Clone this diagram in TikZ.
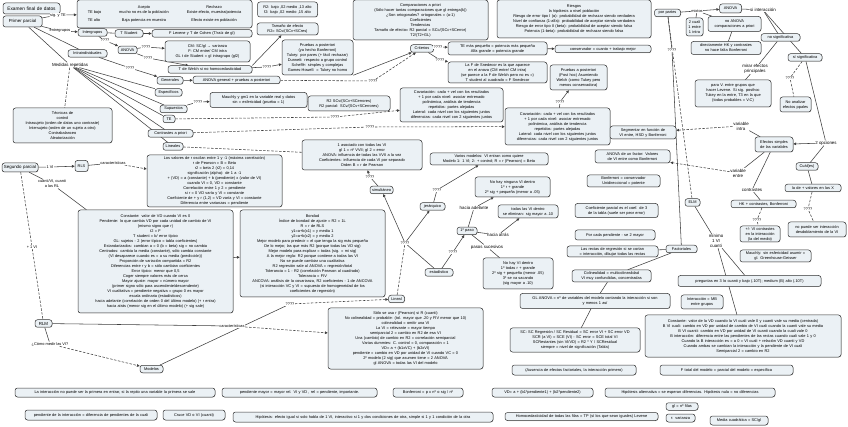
\documentclass[tikz,border=0pt]{standalone}
\usepackage{fontspec}
\setmainfont{Liberation Sans}
\usetikzlibrary{arrows.meta, shadows, backgrounds}
\definecolor{boxfill}{HTML}{EBF1F5}
\definecolor{boxline}{HTML}{333333}
\definecolor{linkgray}{HTML}{404040}
\newcommand{\fsmall}{\fontsize{3.9}{5.0}\selectfont}
\newcommand{\fmain}{\fontsize{4.4}{5.0}\selectfont}

\begin{document}
\begin{tikzpicture}[x=1pt, y=-1pt,
  box/.style={draw=boxline, fill=boxfill, rounded corners=2.5pt, inner sep=1pt, align=center, font=\fsmall, line width=0.5pt, minimum height=7.5pt, drop shadow={shadow xshift=0.5pt, shadow yshift=-0.5pt, opacity=0.3}},
  cbox/.style={box, font=\fmain},
  lbl/.style={fill=white, inner sep=0.4pt, align=center, font=\fsmall},
  ln/.style={linkgray, line width=0.55pt},
  dln/.style={ln, dash pattern=on 2.5pt off 1.5pt},
  arrow/.style={ln, -{Triangle[length=2.8pt, width=2.6pt]}},
  darrow/.style={dln, -{Triangle[length=2.8pt, width=2.6pt]}}
]
\useasboundingbox (0,0) rectangle (848,427);

% primer parcial
\node[cbox, font=\fontsize{4.8}{5.2}\selectfont, text width=55pt, minimum height=11pt] (exam) at (31.5,8.5) {Examen final de datos};
\node[cbox, text width=37pt, minimum height=11pt] (primer) at (22.5,21.5) {Primer parcial};
\node[lbl] (lsig) at (58,15) {sig. y TE};
\node[box, minimum width=175pt, minimum height=28pt] (tabla) at (164.5,14) {\begin{tabular}{@{}l@{\hspace{18pt}}c@{\hspace{18pt}}c@{}}
 & Acepto & Rechazo\\
TE bajo & mucho no es de la población & Existe efecto, muestra/potencia\\[3pt]
TE alto & Baja potencia en muestra & Efecto existe en población
\end{tabular}};
\node[box, text width=58pt, minimum height=15pt] (tamr) at (287.5,9.5) {R2: bajo ,02 medio ,13 alto\\f2: bajo ,02 medio ,15 alto};
\node[box, text width=59pt, minimum height=12pt] (tamef) at (287.5,29) {Tamaño de efecto\\R2= SCv/(SCv+SCres)};
\node[lbl] (lentre) at (60,31) {entregrupos};
\node[box, text width=27pt] (inter) at (92.5,32.5) {Intergrupos};
\node[box, text width=26pt] (tstud) at (129,33.5) {T Student};
\node[box, text width=98pt] (levene) at (202,33.5) {F Levene y T de Cohen (T/raíz de gl)};
\node[lbl] (q1) at (105,40.5) {????};
\node[box, text width=17pt] (anovaa) at (127.5,50) {ANOVA};
\node[lbl] (q2) at (146,47) {????};
\node[lbl] (q3) at (148,58) {????};
\node[box, text width=83pt, minimum height=21pt] (cmbox) at (207.5,51.5) {CM: SC/gl → varianza\\F: CM entre/ CM intra\\GL t de Student = gl intragrupo (gl2)};
\node[box, text width=82pt] (welch) at (210,69.5) {T de Welch si no homocedasticidad};
\node[box, text width=37pt] (intra) at (87.5,53.5) {Intraindividuales};
\node[lbl, font=\fmain] (lmed) at (70,65) {Medidas repetidas};
\node[lbl] (q4) at (130,68) {????};
\node[box, text width=97pt, minimum height=35pt] (tecnicas) at (62.5,125.5) {Técnicas de\\control\\Intrasujeto (orden de datos uno contraste)\\Intersujeto (orden de un sujeto a otro)\\Contrabalanceo\\Aleatorización};
\node[box, text width=24pt] (generales) at (170,80.5) {Generales};
\node[box, text width=85pt] (anovagen) at (236.5,80) {ANOVA general + pruebas a posteriori};
\node[box, text width=25pt] (especif) at (168.5,92.5) {Específicos};
\node[box, text width=25pt] (supuestos) at (173.5,109) {Supuestos};
\node[box, text width=10pt] (tebox) at (169,119) {TE};
\node[box, text width=43pt] (contr) at (170.5,133.5) {Contrastes a priori};
\node[box, text width=18pt] (lineales) at (173,146.5) {Lineales};
\node[lbl] (q5) at (267,67) {????};
\node[lbl] (q6) at (198,102) {????};
\node[box, text width=95pt, minimum height=15pt] (mauchly) at (258.5,100) {Mauchly y gm1 en la variable real y datos\\sin = esfericidad (prueba = 1)};
\node[box, text width=80pt, minimum height=15pt] (rdos) at (349,103.5) {R2 SCv/(SCv+SCerrores)\\R2 parcial: SCv/(SCv+SCerrores)};
\node[box, text width=69pt, minimum height=35pt] (posteriori) at (317.5,57.5) {Pruebas a posteriori\\(ya hecho Bonferroni)\\Tukey: por pares (+ fácil rechazar)\\Dunnett: respecto a grupo control\\Scheffé: simples y complejas\\Games-Howell: = Tukey no homo};
\node[box, text width=133pt, minimum height=40pt] (compa) at (420.5,20) {Comparaciones a priori\\(Sólo hacer tantas comparaciones que gl entrega(k))\\¿Son ortogonales? ortogonales = (a-1)\\Coeficientes\\Tendencias\\Tamaño de efecto= R2 parcial = SCc/(SCc+SCerror)\\T2/(T2+GL)};
\node[lbl] (q9) at (373,81) {????};
\node[box, text width=21pt] (criterios) at (422,48.5) {Criterios};
\node[lbl] (q10) at (438,47) {????};
\node[lbl] (q11) at (440,60) {????};
\node[box, text width=97pt, minimum height=13pt] (tepeq) at (497.5,48.5) {TE más pequeño = potencia más pequeña\\Alfa grande = potencia grande};
\node[box, text width=97pt, minimum height=21pt] (snedecor) at (497.5,72.5) {La F de Snedecor es la que aparece\\en el anova (CM entre/ CM intra)\\(se parece a la F de Welch pero no es =)\\T student al cuadrado = F Snedecor};
\node[box, text width=152pt, minimum height=38pt] (riesgos) at (574,19) {Riesgos\\la hipótesis a nivel población\\Riesgo de error tipo I (α): probabilidad de rechazar siendo verdadera\\Nivel de confianza (1-alfa): probabilidad de aceptar siendo verdadera\\Riesgo de error tipo II (beta): probabilidad de aceptar siendo falsa\\Potencia (1-beta): probabilidad de rechazar siendo falsa};
\node[box, text width=94pt] (conserv) at (603,49) {conservador = cuanto + trabajo mejor};
\node[box, text width=55pt, minimum height=25pt] (posthoc) at (578.5,77.5) {Pruebas a posteriori\\(Post hoc) Asumiendo\\Welch (como Tukey pero\\menos conservadora)};
\node[lbl] (q7) at (335,117) {????};
\node[lbl] (q8) at (370,127) {????};
\node[box, text width=101pt, minimum height=34pt] (covl) at (451.5,105) {Covariación: cada + vel con los resultados\\+ 1 por cada nivel: asociar entrenado\\polinómica, análisis de tendencia\\repetidos: partes alejadas\\Lateral: cada nivel con los siguientes juntos\\diferencias: cada nivel con 2 siguientes juntos};
\node[box, text width=103pt, minimum height=37pt] (covr) at (557.5,126.5) {Covariación: cada + vel con los resultados\\+ 1 por cada nivel: asociar entrenado\\polinómica, análisis de tendencia\\repetidos: partes alejadas\\Lateral: cada nivel con los siguientes juntos\\diferencias: cada nivel con 2 siguientes juntos};
\node[lbl] (q12) at (560,102) {????};

% mixtos y factoriales
\node[box, text width=24pt] (porpartes) at (667.5,13) {por partes};
\node[lbl] (lmixtos) at (697,11) {mixtos};
\node[box, text width=20pt, minimum height=9pt] (anovab) at (730.5,8.5) {ANOVA};
\node[lbl, font=\fmain] (lsiinter) at (763,10) {si interacción};
\node[box, text width=15pt, minimum height=18pt] (cuali) at (694.5,27) {2 cuali\\1 entre\\1 intra};
\node[box, text width=51pt, minimum height=15pt] (noanova) at (734.5,24) {no ANOVA\\comparaciones a priori};
\node[box, text width=68pt, minimum height=13pt] (directhk) at (726,48) {directamente HK y contrastes\\no hace falta Bonferroni};
\node[box, text width=37pt] (nosig) at (780.5,37.5) {no significativa};
\node[box, text width=32pt] (sisig) at (805,57.5) {sí significativa};
\node[lbl, font=\fmain] (lmirar) at (755,69) {mirar efectos\\principales};
\node[box, text width=74pt, minimum height=27pt] (parav) at (733,93.5) {para V. entre grupos que\\hacer Levene. Si sig. posthoc\\Tukey en la entre, T3 en la que\\(todas probables = V.C)};
\node[lbl] (q13) at (790,78) {????};
\node[box, text width=29pt, minimum height=15pt] (noanal) at (795.5,104.5) {No analizar\\efectos ppales};
\node[box, text width=36pt, minimum height=15pt] (efsimp) at (774,144.5) {Efectos simples\\de las variables};
\node[lbl, font=\fmain] (l2op) at (826,143) {2 opciones};
\node[box, text width=20pt] (cuales) at (807,166.5) {Cuál(es)};
\node[box, text width=54pt] (ladex) at (813,188) {la de + valores en las X};
\node[lbl] (q14) at (808,209) {????};
\node[box, text width=56pt, minimum height=15pt] (nopuede) at (817,229.5) {no puede ser interacción\\desdoblamiento de la VI};
\node[lbl, font=\fmain] (lvintra) at (741,126) {variable\\intra};
\node[lbl, font=\fmain] (lventre) at (738,173) {variable\\entre};
\node[lbl, font=\fmain] (lcontr) at (752,190) {contrastes};
\node[box, text width=63pt] (hkc) at (763.5,204) {HK + contrastes, Bonferroni};
\node[lbl] (q15) at (757,220) {????};
\node[box, text width=38pt, minimum height=16pt] (vic) at (760,234) {+/- VI contrastes\\en la interacción\\(la del medio)};
\node[box, text width=69pt, minimum height=12pt] (mauch) at (775.5,256) {Mauchly: sin esfericidad asumir =\\gl. Greenhouse-Geisser};
\node[lbl] (q16) at (672,50) {????};
\node[box, text width=13pt] (elm) at (692.5,202.5) {ELM};
\node[lbl, font=\fmain] (lminimo) at (716,241) {mínimo\\1 VI\\cuanti};
\node[box, text width=29pt] (factoriales) at (681.5,249) {Factoriales};
\node[box, text width=141pt, minimum height=11pt] (pregunta) at (749.5,281) {preguntas en 3 lo cuanti y bajo (.10T); medium (B) alto (.10T)};
\node[box, text width=40pt, minimum height=14pt] (interac) at (702,302) {Interacción = MB\\entre grupos};
\node[box, text width=194pt, minimum height=42pt] (constr) at (743,336) {Constante: valor de la VD cuando la VI cuali vale 0 y cuanti vale su media (centrada)\\B VI cuali: cambio en VD por unidad de cambio de VI cuali cuando la cuanti vale su media\\B VI cuanti: cambio en VD por unidad de VI cuanti cuando la cuali vale 0\\B interacción: diferencia entre las pendientes de las rectas cuando cuali vale 1 y 0\\Cuando la B interacción es = a 0 = VI cuali + relación VD cuanti y VD\\Cuando ambas se cambian la interacción y la pendiente de VI cuali\\Semiparcial 2 = cambio en R2};
\node[box, text width=131pt, minimum height=10pt] (ftotal) at (726.5,370) {F total del modelo = parcial del modelo = específica};
\node[box, text width=168pt, minimum height=9pt] (hipalt) at (690,392.5) {Hipótesis alternativa = se esperan diferencias. Hipótesis nula = no diferencias};
\node[box, text width=30pt] (glfilas) at (682,406.5) {gl = nº filas};
\node[box, text width=27pt, minimum height=8pt] (rvar) at (680.5,418) {r: varianza};
\node[box, text width=56pt, minimum height=9pt] (mediac) at (739,420.5) {Media cuadrática = SC/gl};

% columna central derecha
\node[box, text width=64pt, minimum height=13pt] (segm) at (643,132.5) {Segmentar en función de\\VI entre, HSD y Bonferroni};
\node[box, text width=73pt, minimum height=13pt] (anovauf) at (632.5,156.5) {ANOVA de un factor: Valores\\de VI entre como Bonferroni};
\node[box, text width=71pt, minimum height=12pt] (bonfc) at (623.5,181) {Bonferroni = conservador\\Unidireccional = potente};
\node[box, text width=81pt, minimum height=14pt] (coefp) at (616.5,210.5) {Coeficiente parcial es el coef. de 3\\de la tabla (suele ser peor error)};
\node[box, text width=78pt, minimum height=10pt] (porcada) at (615,235) {Por cada pendiente - se 2 mayor};
\node[box, text width=89pt, minimum height=11pt] (rectas) at (612.5,251.5) {Las rectas de regresión si se cortan\\= interacción, dibujar todas las rectas};
\node[box, text width=77pt, minimum height=12pt] (colin) at (611.5,276) {Colinealidad = multicolinealidad\\VI muy confundidas, concentradas};
\node[box, text width=148pt, minimum height=15pt] (glanova) at (595,301) {GL ANOVA = nº de variables del modelo contando la interacción si son\\y menos 1 así};
\node[box, text width=128pt, minimum height=24pt] (scbox) at (575,340) {SC: SC Regresión / SC Residual = SC error VI + SC error VD\\SCR (a VI) = SCE (VI) - SC error = SCE total VI\\SCRestantes (sin VI/VD) = R2 * Y / SCResidual\\siempre = nivel de significación (Tabla)};
\node[box, text width=122pt, minimum height=10pt] (ausen) at (574,370) {(Ausencia de efectos factoriales, la interacción primero)};
\node[box, text width=151pt, minimum height=8pt] (homoc) at (581.5,416.5) {Homocedasticidad de todas las filas = TP (sí los que sean iguales) Levene};

% segundo parcial
\node[cbox, text width=34pt, minimum height=9pt] (segundo) at (20,167.5) {Segundo parcial};
\node[lbl] (l1vi) at (50,167) {1 VI};
\node[box, text width=11pt, minimum height=11pt] (rls) at (81.5,166) {RLS};
\node[lbl] (lcarac) at (113,163) {características};
\node[lbl] (lcuanti) at (52,184) {cuanti/VI, cuanti\\a las RL};
\node[box, text width=133pt, minimum height=52pt] (rpear) at (214.5,181) {Los valores de r oscilan entre 1 y -1 (máxima correlación)\\r de Pearson = B = Beta\\r2 = beta 2 (r2) = 0,14\\significación (alpha): de 1 a -1\\+ (VD) = a (constante) + b (pendiente) x (valor de VI)\\cuando VI = 0, VD = constante\\Correlación entre 1 y 2 = pendiente\\si r = 0 VD varía y VI = constante\\Coeficiente de + y r (1,2) = VD varía y VI = constante\\Diferencia entre varianzas = pendiente};
\node[box, text width=153pt, minimum height=103pt] (constante) at (155.5,261.5) {Constante: valor de VD cuando VI es 0\\Pendiente: lo que cambia VD por cada unidad de cambio de VI\\(mismo signo que r)\\t2 = F\\T student = b/ error típico\\GL: sujetos - 2 (error típico = tabla coeficientes)\\Estandarizados: cambian a = 0 (b = beta) sig = no cambia\\Centrados: cambia la media (constante), sólo cambia constante\\(VI desaparece cuando es = a su media (predicción))\\Proporción de variación compartida = R2\\Diferencias entre r y b = sólo cambian coeficientes\\Error típico: menor que 0,5\\Coger siempre valores más de cerca\\Mayor ajuste: mayor = número mayor\\(primer signo sólo para ascendente/descendente)\\VI cualitativa = pendiente negativa = grupo 0 es mayor\\escala ordinaria (estadísticos)\\hacia adelante (correlación de orden 0 del último modelo) (+ r entra)\\hacia atrás (menor sig en el último modelo) (+ sig sale)};
\node[box, text width=143pt, minimum height=87pt] (bondad) at (312.5,253.5) {Bondad\\Índice de bondad de ajuste = R2 = 1L\\R = r de RLS\\y1=a+b(x1) = y media 1\\y2=a+b(x2) = y media 2\\Mejor modelo para predecir = el que tenga la sig más pequeña\\De lo mejor, las que más R2 (porque todas las VD sig)\\Mejor modelo para explicar = todas (sig. = mi sig)\\A la mejor regla: R2 porque contiene a todas las VI\\No se puede cambiar una cualitativa\\R2 regresión sale al ANOVA = regresión/total\\Tolerancia = 1 - R2 (correlación Pearson al cuadrado)\\Tolerancia = FIV\\ANCOVA: análisis de la covarianza, R2 coeficientes - 1 de ANCOVA\\(si interacción VC y VI = supuesto de homogeneidad de los\\coeficientes de regresión)};
\node[lbl] (l1vib) at (32,247) {+ 1 VI};
\node[cbox, text width=15pt] (rlm) at (43.5,323.5) {RLM};
\node[lbl] (lcomo) at (50,344) {¿Cómo medir las VI?};
\node[box, text width=21pt] (modelos) at (151.5,369) {Modelos};
\node[lbl] (lcarac2) at (232,326) {características};
\node[box, text width=153pt, minimum height=61pt] (solor) at (405.5,338.5) {Sólo se usa r (Pearson) si R (cuanti)\\No colinealidad = probable: (tol. mayor que .20 y FIV menor que 10)\\colinealidad = omitir una VI\\La VI = relevante = mayor tiempo\\semiparcial 2 = cambio en R2 de esa VI\\Una (cambio) de cambio en R2 = correlación semiparcial\\Varias dummies: C. control = 0, comparación = 1\\VD= a + (b1xVC) + (b2xVI)\\pendiente = cambio en VD por unidad de VI cuando VC = 0\\2º modelo (2 sig) que asumen tiene = 2 ANOVA\\gl ANOVA = todas las VI del modelo};
\node[lbl] (q17) at (290,304) {????};
\node[box, text width=14pt] (lineal) at (396.5,299) {Lineal};
\node[lbl] (q18) at (405,243) {????};
\node[box, text width=21pt] (simult) at (381.5,190) {simultáneo};
\node[box, text width=118pt, minimum height=30pt] (unoasoc) at (362,155) {1 asociado con todas las VI\\gl 1 = nº VVII; gl 2 = error\\ANOVA: influencia de todas las VVII a la vez\\Coeficientes: influencia de cada VI por separado\\Orden B = r de Pearson};
\node[lbl] (q19) at (370,177) {????};
\node[box, text width=23pt] (jerar) at (432.5,206.5) {jerárquico};
\node[lbl] (q20) at (437,190) {????};
\node[box, text width=116pt, minimum height=12pt] (varios) at (489,159) {Varios modelos: VI entran como quiere\\Modelo 1: 1 VI; 2: + control; R = r (Pearson) = Beta};
\node[box, text width=26pt] (estad) at (439,272.5) {estadístico};
\node[lbl] (q21) at (453,252) {????};
\node[box, text width=18pt] (paso) at (467,231) {1º paso};
\node[box, text width=73pt, minimum height=20pt] (ninguna) at (512.5,187) {No hay ninguna VI dentro\\1º r + grande\\2º sig + pequeña (menor a .05)};
\node[lbl, font=\fmain] (ladel) at (474,208) {hacia adelante};
\node[box, text width=58pt, minimum height=13pt] (todas) at (528,211.5) {todas las VI dentro\\se eliminan: sig mayor a .10};
\node[lbl, font=\fmain] (latras) at (498,235) {hacia atrás};
\node[lbl, font=\fmain] (lpasos) at (487,247) {pasos sucesivos};
\node[box, text width=68pt, minimum height=31pt] (nohay) at (518,273.5) {No hay VI dentro\\1º todas r + grande\\2º sig + pequeña (menor .05)\\3º se va sacando\\(sig mayor a .10)};

% notas sueltas
\node[box, text width=198pt, minimum height=9pt] (nota1) at (115,392.5) {La interacción no puede ser la primera en entrar, si la repito una variable la primera se sale};
\node[box, text width=153pt, minimum height=9pt] (nota2) at (299.5,392.5) {pendiente mayor = mayor rel. VI y VD , rel = pendiente, importante.};
\node[box, text width=68pt, minimum height=9pt] (nota3) at (428,392.5) {Bonferroni = p x nº o sig / nº};
\node[box, text width=99pt, minimum height=9pt] (nota4) at (542.5,392.5) {VD= a + (b1*pendiente1) + (b2*pendiente2)};
\node[box, text width=130pt, minimum height=10pt] (nota5) at (91,415) {pendiente de la interacción = diferencia de pendientes de la cuali};
\node[box, text width=60pt, minimum height=10pt] (nota6) at (194,415) {Cruce VD o VI (cuanti)};
\node[box, text width=258pt, minimum height=10pt] (nota7) at (363,417) {Hipótesis: efecto igual si solo habla de 1 VI, interactivo si 1 y dos condiciones de otra, simple si 1 y 1 condición de la otra};

\begin{scope}[on background layer]
\fill[white] (0,0) rectangle (848,427);
% primer parcial
\draw[ln] (primer) -- (lsig);
\draw[arrow] (lsig) -- (tabla);
\draw[ln] (primer) -- (lentre);
\draw[arrow] (lentre) -- (inter);
\draw[ln] (primer) -- (intra);
\draw[ln] (primer) -- (lmed);
\draw[ln] (inter) -- (tstud);
\draw[arrow] (tstud) -- (levene);
\draw[ln] (inter) -- (q1);
\draw[arrow] (q1) -- (anovaa);
\draw[ln] (anovaa) -- (q2);
\draw[arrow] (q2) -- (cmbox);
\draw[ln] (anovaa) -- (q3);
\draw[arrow] (q3) -- (welch);
\draw[ln] (intra) -- (q4);
\draw[arrow] (q4) -- (generales);
\draw[arrow] (generales) -- (anovagen);
\draw[ln] (lmed) -- (especif);
\draw[ln] (lmed) -- (supuestos);
\draw[ln] (lmed) -- (tebox);
\draw[ln] (lmed) -- (contr);
\draw[ln] (lmed) -- (lineales);
\draw[dln] (lmed) -- (tecnicas);
\draw[ln] (supuestos) -- (q6);
\draw[arrow] (q6) -- (mauchly);
\draw[arrow] (mauchly) -- (rdos);
\draw[ln] (welch) -- (q5);
\draw[arrow] (q5) -- (posteriori);
\draw[arrow] (welch.north east) -- (tamef);
\draw[arrow] (posteriori.south east) -- (criterios);
\draw[dln] (anovagen) -- (q9);
\draw[darrow] (q9) -- (criterios);
\draw[ln] (criterios) -- (q10);
\draw[arrow] (q10) -- (tepeq);
\draw[ln] (criterios) -- (q11);
\draw[arrow] (q11) -- (snedecor);
\draw[arrow] (tepeq) -- (conserv);
\draw[dln] (tebox) -- (q7);
\draw[darrow] (q7) -- (covl);
\draw[dln] (contr) -- (q8);
\draw[darrow] (q8) -- (covr);
\draw[dln] (lineales) -- (unoasoc);
\draw[ln] (covr) -- (q12);
\draw[arrow] (q12) -- (posthoc);
% mixtos y factoriales
\draw[ln] (porpartes) -- (lmixtos);
\draw[arrow] (lmixtos) -- (anovab);
\draw[ln] (lmixtos) -- (cuali);
\draw[ln] (lmixtos) -- (noanova);
\draw[ln] (noanova) -- (directhk);
\draw[ln] (anovab) -- (lsiinter);
\draw[ln] (lsiinter) -- (nosig);
\draw[ln] (lsiinter) -- (sisig);
\draw[ln] (nosig) -- (lmirar);
\draw[ln] (lmirar) -- (parav);
\draw[dln] (sisig) -- (q13);
\draw[dln] (q13) -- (noanal);
\draw[ln] (sisig) -- (l2op);
\draw[arrow] (l2op) -- (efsimp);
\draw[ln] (l2op) -- (cuales);
\draw[ln] (cuales) -- (ladex);
\draw[dln] (ladex) -- (q14);
\draw[dln] (q14) -- (nopuede);
\draw[ln] (efsimp) -- (lvintra);
\draw[darrow] (lvintra) -- (segm);
\draw[ln] (efsimp) -- (lventre);
\draw[darrow] (lventre) -- (anovauf);
\draw[ln] (efsimp) -- (lcontr);
\draw[ln] (lcontr) -- (hkc);
\draw[dln] (hkc) -- (q15);
\draw[dln] (q15) -- (vic);
\draw[ln] (porpartes) -- (q16);
\draw[ln] (q16) -- (factoriales);
\draw[dln] (porpartes) -- (elm);
\draw[ln] (elm) -- (lminimo);
\draw[ln] (lminimo) -- (pregunta);
\draw[ln] (lminimo) -- (constr);
\draw[ln] (factoriales) -- (rectas);
\draw[ln] (factoriales) -- (colin);
\draw[ln] (colin) -- (glanova);
\draw[ln] (glanova) -- (scbox);
% segundo parcial
\draw[ln] (segundo) -- (l1vi);
\draw[arrow] (l1vi) -- (rls);
\draw[ln] (rls) -- (lcarac);
\draw[darrow] (lcarac) -- (rpear);
\draw[ln] (segundo) -- (lcuanti);
\draw[ln] (lcuanti) -- (constante);
\draw[dln] (segundo) -- (l1vib);
\draw[dln] (l1vib) -- (rlm);
\draw[ln] (rlm) -- (lcomo);
\draw[darrow] (lcomo) -- (modelos);
\draw[ln] (rlm) -- (lcarac2);
\draw[darrow] (lcarac2) -- (solor);
\draw[ln] (modelos) -- (q17);
\draw[darrow] (q17) -- (lineal);
\draw[dln] (lineal) -- (q18);
\draw[arrow] (q18) -- (simult);
\draw[arrow] (q18) -- (jerar);
\draw[ln] (q18) -- (estad);
\draw[ln] (simult) -- (q19);
\draw[arrow] (q19) -- (unoasoc);
\draw[ln] (jerar) -- (q20);
\draw[arrow] (q20) -- (varios);
\draw[ln] (estad) -- (q21);
\draw[arrow] (q21) -- (paso);
\draw[ln] (paso) -- (ladel);
\draw[arrow] (ladel) -- (ninguna);
\draw[ln] (paso) -- (latras);
\draw[arrow] (latras) -- (todas);
\draw[ln] (paso) -- (lpasos);
\draw[ln] (lpasos) -- (nohay);
\draw[arrow] (constante) -- (bondad);
\end{scope}
\end{tikzpicture}
\end{document}
